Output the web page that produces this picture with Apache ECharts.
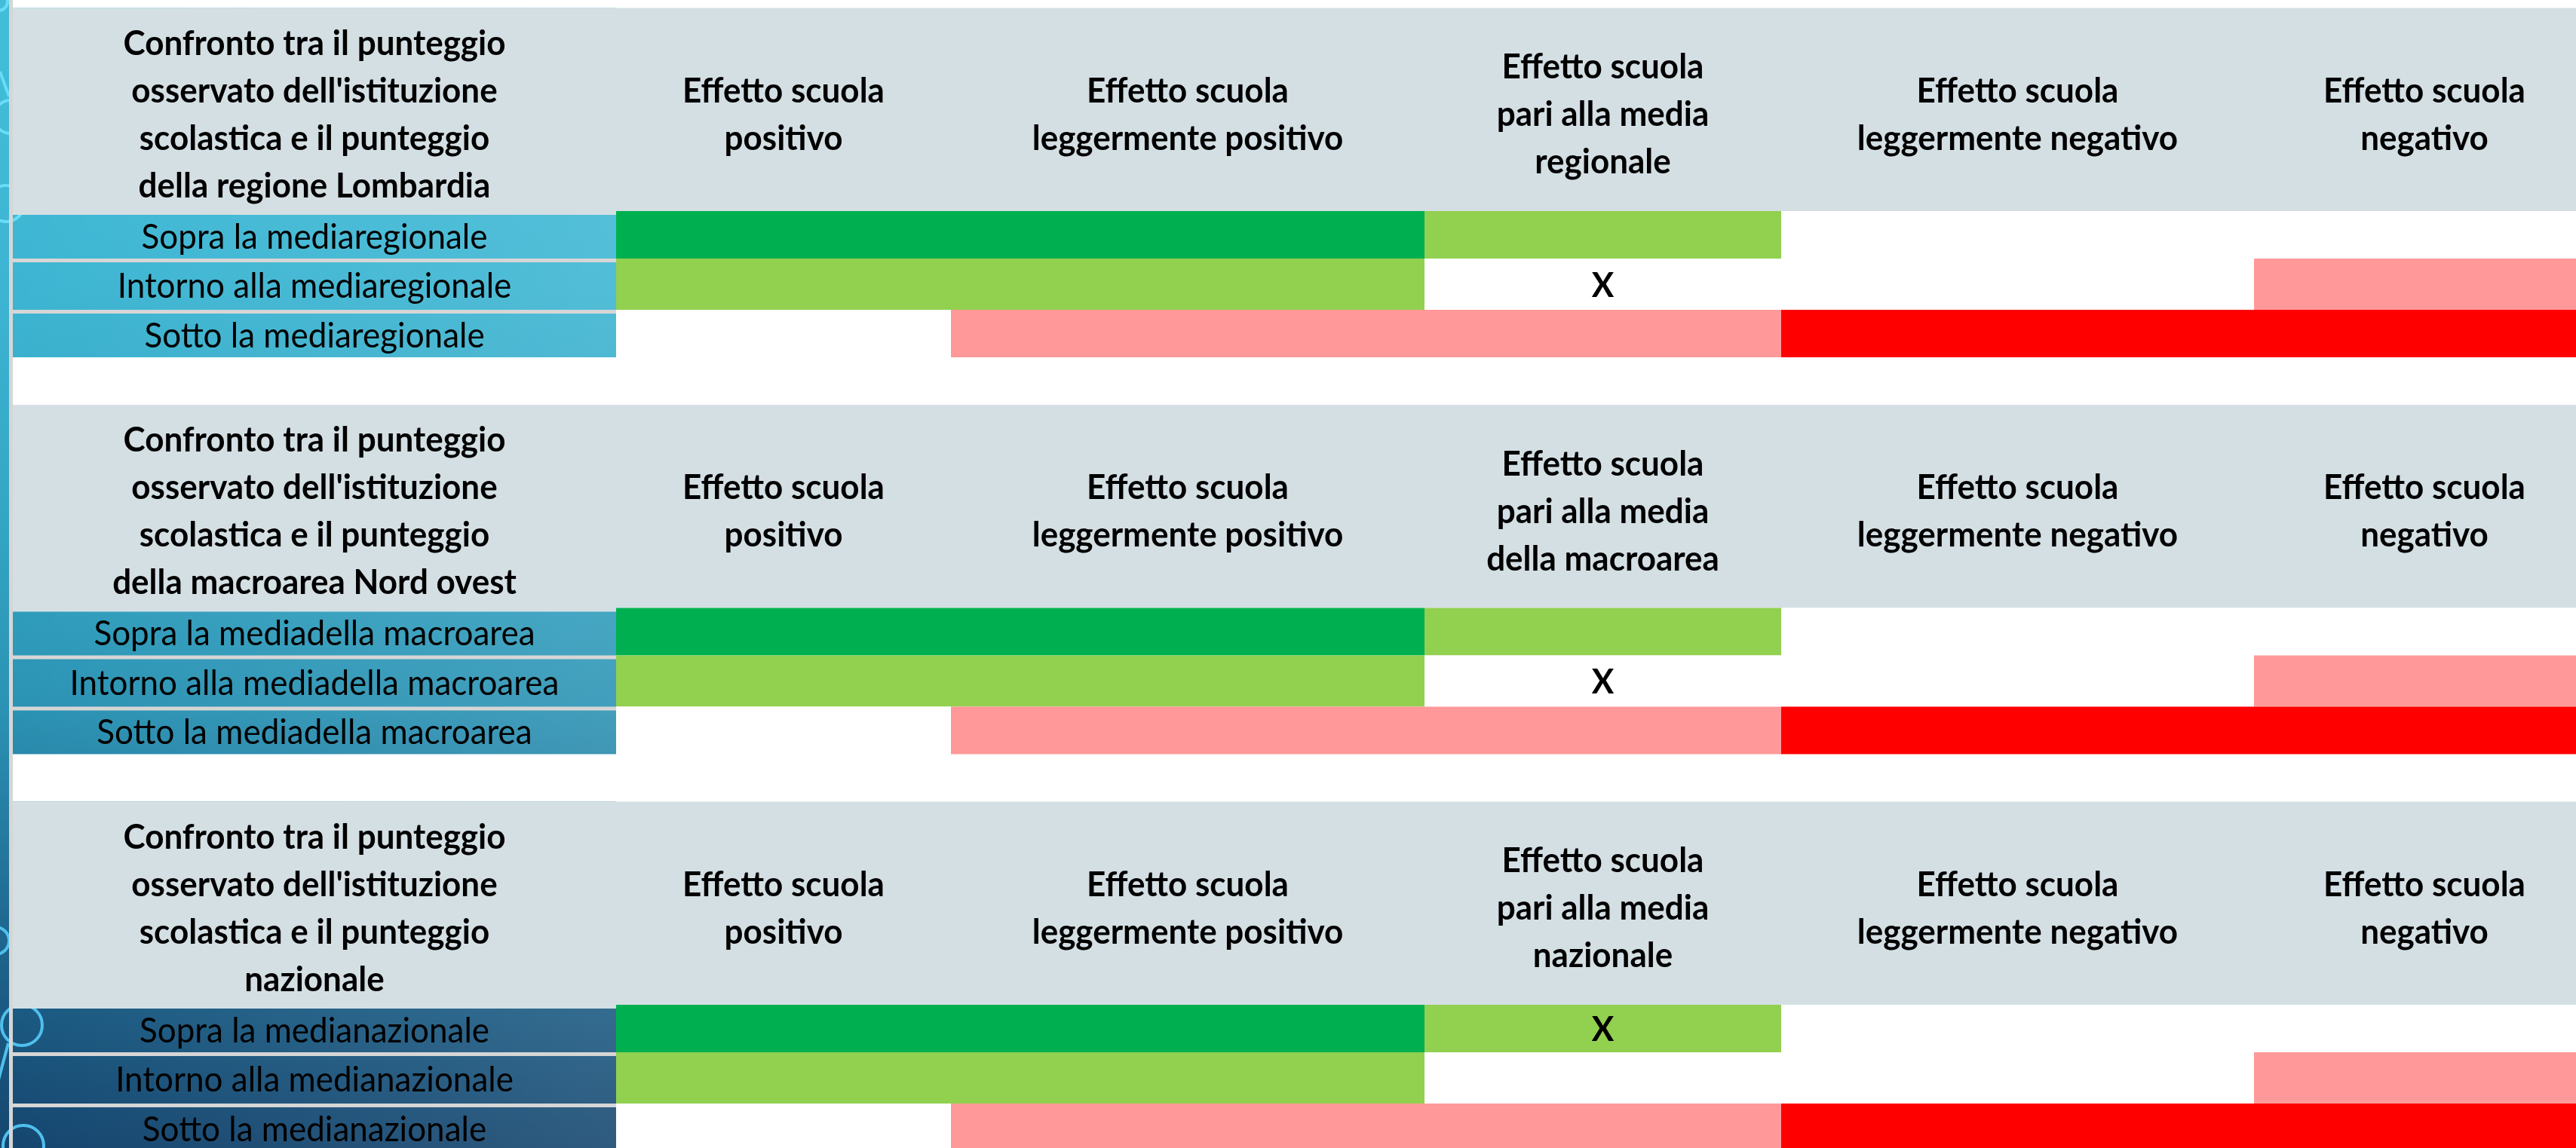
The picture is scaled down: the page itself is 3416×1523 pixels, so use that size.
<!DOCTYPE html>
<html>
<head>
<meta charset="utf-8">
<script src="https://cdn.jsdelivr.net/npm/echarts@6/dist/echarts.min.js"></script>
<style>
html,body{margin:0;padding:0;background:#ffffff;overflow:hidden;}
#chart{width:3416px;height:1523px;}
</style>
</head>
<body>
<div id="chart"></div>
<script>
// ================= DATA =================
// Column headers (effetto scuola categories)
const effectHeaders = [
  'Effetto scuola\npositivo',
  'Effetto scuola\nleggermente positivo',
  'Effetto scuola\npari alla media',
  'Effetto scuola\nleggermente negativo',
  'Effetto scuola\nnegativo'
];
// Reference area for each block (used in "pari alla media ..." header and row labels)
const referenceAreas = ['regionale', 'della macroarea', 'nazionale'];
// Last line of the corner header for each block
const cornerLastLines = ['della regione Lombardia', 'della macroarea Nord ovest', 'nazionale'];
const cornerIntro = 'Confronto tra il punteggio\nosservato dell\'istituzione\nscolastica e il punteggio';
// Row categories
const rowCategories = ['Sopra la media', 'Intorno alla media', 'Sotto la media'];
// Cell levels per row (2 = verde scuro, 1 = verde chiaro, 0 = nessuno, -1 = rosa, -2 = rosso)
const sopraLevels   = [2, 2, 1, 0, 0];
const intornoLevels = [1, 1, 0, 0, -1];
const sottoLevels   = [0, -1, -1, -2, -2];
// Position of the school ("X"): [block, row, column]
const schoolMarks = [[0, 1, 2], [1, 1, 2], [2, 0, 2]];

// ================= STYLE / LAYOUT =================
const LEVEL_COLORS = { '2': '#00B050', '1': '#92D050', '0': '#FFFFFF', '-1': '#FF9999', '-2': '#FF0000' };
const HEADER_BG = '#D4DFE4';
const SEP_COLOR = '#D6D6D6';
const FONT = 'Lato';
const FS = 44;
const LAYOUT = {
  colEdges: [17, 817, 1261, 1889, 2362, 2989, 3441],
  top0: 10.5,
  pitch: 526.5,
  headerH: 269.5,
  rowH: [63, 68, 63],
  labelInset: 5,
  lineH: 63,
  headerTextOffset: 142
};

const levelsByRow = [sopraLevels, intornoLevels, sottoLevels];

function blockTop(b) { return LAYOUT.top0 + b * LAYOUT.pitch; }
function rowTop(b, r) {
  let y = blockTop(b) + LAYOUT.headerH;
  for (let i = 0; i < r; i++) y += LAYOUT.rowH[i];
  return y;
}
function rowBottom(b, r) { return rowTop(b, r) + LAYOUT.rowH[r]; }
function rectOf(api, x0, y0, x1, y1) {
  const a = api.coord([x0, y0]);
  const c = api.coord([x1, y1]);
  return { x: a[0], y: a[1], width: c[0] - a[0], height: c[1] - a[1] };
}
function textEl(api, x, y, text, bold, size) {
  const p = api.coord([x, y]);
  return {
    type: 'text',
    x: p[0], y: p[1],
    scaleY: 1.04,
    style: {
      text: text,
      fill: '#000000',
      fontFamily: FONT,
      fontWeight: bold ? 'bold' : 'normal',
      fontSize: size || FS,
      lineHeight: LAYOUT.lineH / 1.04,
      align: 'center', verticalAlign: 'middle',
      textAlign: 'center', textVerticalAlign: 'middle'
    }
  };
}

// ---- build series data from the arrays ----
const headerItems = [];
const labelItems = [];
const cellItems = [];
for (let b = 0; b < referenceAreas.length; b++) {
  for (let k = 0; k <= effectHeaders.length; k++) headerItems.push([k, b]);
  for (let r = 0; r < rowCategories.length; r++) {
    labelItems.push([r, b]);
    for (let c = 0; c < effectHeaders.length; c++) {
      const marked = schoolMarks.some(m => m[0] === b && m[1] === r && m[2] === c) ? 1 : 0;
      cellItems.push([c, b, r, levelsByRow[r][c], marked]);
    }
  }
}

function headerText(k, b) {
  if (k === 0) return cornerIntro + '\n' + cornerLastLines[b];
  if (k === 3) return effectHeaders[2] + '\n' + referenceAreas[b];
  return effectHeaders[k - 1];
}

// ---- background decoration (slide background visible in label column) ----
const bgGradient = new echarts.graphic.LinearGradient(0, 0, 0, 1, [
  { offset: 0, color: '#42BEDA' },
  { offset: 0.25, color: '#3DB5D2' },
  { offset: 0.45, color: '#34A6C4' },
  { offset: 0.62, color: '#2B92B3' },
  { offset: 0.78, color: '#216E96' },
  { offset: 0.88, color: '#1B5A82' },
  { offset: 1, color: '#15466F' }
]);
const bgSheen = new echarts.graphic.LinearGradient(0, 0, 1, 0, [
  { offset: 0, color: 'rgba(255,255,255,0)' },
  { offset: 1, color: 'rgba(255,255,255,0.11)' }
]);
const ring = (cx, cy, r, col) => ({ type: 'circle', shape: { cx: cx, cy: cy, r: r }, style: { fill: 'none', stroke: col, lineWidth: 4 }, z: 1 });
const stick = (x1, y1, x2, y2, col) => ({ type: 'line', shape: { x1: x1, y1: y1, x2: x2, y2: y2 }, style: { stroke: col, lineWidth: 4 }, z: 1 });

const option = {
  animation: false,
  backgroundColor: '#FFFFFF',
  grid: { left: 0, right: 0, top: 0, bottom: 0 },
  xAxis: { type: 'value', min: 0, max: 3416, show: false },
  yAxis: { type: 'value', min: 0, max: 1523, inverse: true, show: false },
  graphic: [
    { type: 'rect', shape: { x: 0, y: 0, width: 817, height: 1523 }, style: { fill: bgGradient }, z: 0 },
    { type: 'rect', shape: { x: 17, y: 0, width: 800, height: 1523 }, style: { fill: bgSheen }, z: 0 },
    ring(-2, 2, 12, '#6ADCF5'),
    stick(0, 95, 12, 128, '#6ADCF5'),
    ring(14, 155, 22, '#6ADCF5'),
    ring(8, 270, 24, '#6ADCF5'),
    ring(-6, 1248, 18, '#4FC0EE'),
    ring(29, 1360, 27, '#4FC0EE'),
    stick(11, 1384, -4, 1440, '#4FC0EE'),
    ring(31, 1520, 27, '#4FC0EE')
  ],
  series: [
    {
      // frame: white bands between blocks and the thin vertical divider
      type: 'custom', name: 'frame', clip: false, z: 2,
      data: [[0, 0]],
      renderItem: function (params, api) {
        const E = LAYOUT.colEdges;
        const children = [];
        children.push({ type: 'rect', shape: rectOf(api, E[0], 0, E[E.length - 1], blockTop(0)), style: { fill: '#FFFFFF' } });
        for (let b = 0; b < referenceAreas.length; b++) {
          const y0 = rowBottom(b, rowCategories.length - 1);
          const y1 = b < referenceAreas.length - 1 ? blockTop(b + 1) : 1600;
          children.push({ type: 'rect', shape: rectOf(api, E[0], y0, E[E.length - 1], y1), style: { fill: '#FFFFFF' } });
        }
        children.push({ type: 'rect', shape: rectOf(api, 12, 0, E[0], 1600), style: { fill: SEP_COLOR } });
        return { type: 'group', children: children };
      }
    },
    {
      type: 'custom', name: 'headers', clip: false, z: 3,
      data: headerItems,
      renderItem: function (params, api) {
        const k = api.value(0), b = api.value(1);
        const E = LAYOUT.colEdges;
        const y0 = blockTop(b);
        const y1 = rowTop(b, 0) + (k === 0 ? LAYOUT.labelInset : 0);
        const cx = (E[k] + E[k + 1]) / 2;
        return {
          type: 'group',
          children: [
            { type: 'rect', shape: rectOf(api, E[k], y0, E[k + 1], y1), style: { fill: HEADER_BG } },
            textEl(api, cx, y0 + LAYOUT.headerTextOffset, headerText(k, b), true)
          ]
        };
      }
    },
    {
      type: 'custom', name: 'rowLabels', clip: false, z: 3,
      data: labelItems,
      renderItem: function (params, api) {
        const r = api.value(0), b = api.value(1);
        const E = LAYOUT.colEdges;
        const yt = rowTop(b, r) + LAYOUT.labelInset;
        const yb = rowBottom(b, r);
        const children = [];
        if (r > 0) {
          children.push({ type: 'rect', shape: rectOf(api, E[0], rowTop(b, r), E[1], yt), style: { fill: SEP_COLOR } });
        }
        children.push(textEl(api, (E[0] + E[1]) / 2, (yt + yb) / 2 + 1, rowCategories[r] + referenceAreas[b], false));
        return { type: 'group', children: children };
      }
    },
    {
      type: 'custom', name: 'cells', clip: false, z: 3,
      data: cellItems,
      renderItem: function (params, api) {
        const c = api.value(0), b = api.value(1), r = api.value(2), lv = api.value(3), mk = api.value(4);
        const E = LAYOUT.colEdges;
        const x0 = E[c + 1], x1 = E[c + 2];
        const y0 = rowTop(b, r), y1 = rowBottom(b, r);
        const children = [
          { type: 'rect', shape: rectOf(api, x0, y0, x1, y1), style: { fill: LEVEL_COLORS[String(lv)] } }
        ];
        if (mk) children.push(textEl(api, (x0 + x1) / 2, (y0 + y1) / 2 + 2, 'X', true, 44));
        return { type: 'group', children: children };
      }
    }
  ]
};

const chart = echarts.init(document.getElementById('chart'), null, { renderer: 'canvas', width: 3416, height: 1523 });
chart.setOption(option);
</script>
</body>
</html>
